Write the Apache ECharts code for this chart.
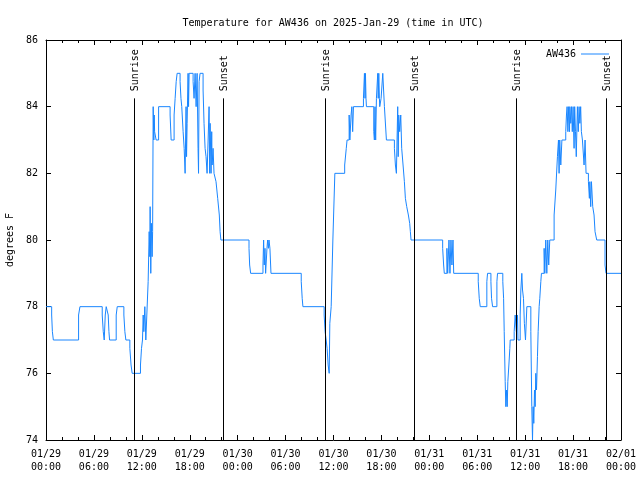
<!DOCTYPE html>
<html><head><meta charset="utf-8">
<script src="https://cdn.jsdelivr.net/npm/echarts/dist/echarts.min.js"></script>
<style>html,body{margin:0;padding:0;background:#fff}#c{width:640px;height:480px}</style>
</head><body><div id="c"></div>
<script>
const titleText = 'Temperature for AW436 on 2025-Jan-29 (time in UTC)';
const seriesName = 'AW436';
const yAxisName = 'degrees F';
const dayLabels = ['01/29', '01/30', '01/31', '02/01'];
const yTicks = [74, 76, 78, 80, 82, 84, 86];

// hours since 2025-01-29 00:00 UTC at which the reading changes
const hours = [
  0, 0.71, 0.8, 0.92, 4.08, 4.25, 7.04, 7.17, 7.29, 7.42, 7.54, 7.79, 7.88, 7.96, 8.79, 8.92,
  9.75, 9.875, 10.0, 10.5, 10.65, 10.79, 11.83, 11.96, 12.08, 12.17, 12.25, 12.375, 12.5, 12.625,
  12.79, 12.92, 13.0, 13.04, 13.12, 13.2, 13.29, 13.35, 13.42, 13.5, 13.55, 13.6, 13.79, 14.1,
  15.54, 15.67, 15.79, 16.04, 16.17, 16.3, 16.42, 16.79, 16.9, 17.0, 17.17, 17.3, 17.42, 17.54,
  17.6, 17.67, 17.79, 17.85, 17.92, 18.42, 18.54, 18.67, 18.8, 18.92, 19.04, 19.1, 19.17, 19.29,
  19.67, 19.79, 19.92, 20.04, 20.17, 20.3, 20.42, 20.5, 20.55, 20.67, 20.75, 20.8, 20.92, 21.04,
  21.29, 21.5, 21.7, 21.8, 21.9,
  25.42, 25.5, 25.625, 27.17, 27.25, 27.33, 27.42, 27.5, 27.67, 27.75, 27.85, 27.92, 28.04, 28.17,
  31.96, 32.08, 32.17, 34.83, 34.95, 35.08, 35.2, 35.33, 35.46, 35.54, 35.71, 35.92, 36.17,
  37.4, 37.6, 37.7, 37.96, 38.05, 38.2, 38.3, 38.4, 38.5, 39.75, 39.875, 39.95, 40.0, 40.07, 40.125,
  41.04, 41.12, 41.2, 41.28, 41.375, 41.54, 41.6, 41.67, 41.75, 41.79, 41.96, 42.17, 42.375, 42.625,
  43.625, 43.75, 43.875, 44.04, 44.1, 44.17, 44.29, 44.42, 44.54, 44.71, 44.875, 45.0, 45.17,
  45.375, 45.54, 45.625, 45.71,
  49.67, 49.79, 49.875, 50.2, 50.3, 50.46, 50.58, 50.71, 50.83, 50.96, 51.05,
  54.125, 54.25, 54.375, 55.2, 55.29, 55.71, 55.79, 55.92, 56.46, 56.54, 57.2, 57.3, 57.375,
  57.5, 57.58, 57.67, 57.75, 57.83, 57.96, 58.08, 58.125, 58.625, 58.75, 58.9, 59.04, 59.1,
  59.375, 59.46, 59.58, 59.67, 59.79, 59.9, 60.04, 60.21, 60.71, 60.83, 60.92, 61.0, 61.08,
  61.17, 61.25, 61.33, 61.42, 61.54, 61.625, 61.75, 61.83, 61.96, 62.04, 62.375, 62.46, 62.58,
  62.71, 62.83, 62.95, 63.08, 63.625, 63.83, 64.04, 64.17, 64.25, 64.33, 64.46, 64.6, 65.08,
  65.17, 65.25, 65.35, 65.45, 65.55, 65.6, 65.71, 65.8, 65.9, 66.0, 66.125, 66.2, 66.3, 66.4,
  66.54, 66.65, 66.75, 66.85, 66.95, 67.04, 67.17, 67.375, 67.5, 67.625, 67.92, 68.04, 68.1,
  68.21, 68.3, 68.46, 68.625, 68.75, 68.96, 70.0, 70.125, 72
];
const tempF = [
  78, 77.75, 77.25, 77, 77.75, 78, 77.75, 77.25, 77, 77.75, 78, 77.75, 77.25, 77, 77.75, 78,
  77.75, 77.25, 77, 76.75, 76.25, 76, 76.25, 76.75, 77, 77.75, 77.25, 78, 77, 77.75,
  78.75, 80.25, 79.5, 81, 79, 80.5, 79.5, 80.25, 84, 83, 83.75, 83.25, 83, 84,
  83.75, 83, 83, 83.75, 84.25, 84.75, 85, 84.75, 84.25, 84, 83.25, 82.75, 82, 84,
  82.5, 83.5, 85, 84, 85, 84.75, 84.25, 85, 84, 85, 82.75, 82, 84.75, 85,
  84.5, 83.5, 82.75, 82.5, 82, 83, 84, 82, 83.5, 82, 83.25, 82.25, 82.75, 82,
  81.75, 81.25, 80.75, 80.25, 80,
  79.75, 79.25, 79, 79.25, 80, 79.25, 79.75, 79, 79.75, 80, 79.75, 80, 79.75, 79,
  78.75, 78.25, 78, 77.75, 77.25, 77, 76.75, 76.25, 76, 77.5, 78, 80, 82,
  82.25, 82.75, 83, 83.75, 83, 83.75, 84, 83.25, 84, 84.25, 85, 84.25, 85, 84.25, 84,
  83.25, 83, 84, 83, 84.25, 85, 84.25, 85, 84.25, 84, 84.25, 85, 84, 83,
  82.75, 82.25, 82, 84, 82.5, 83.75, 83.25, 83.75, 82.75, 82.25, 81.75, 81.25, 81,
  80.75, 80.5, 80.25, 80,
  79.75, 79.25, 79, 79.75, 79, 80, 79, 80, 79.25, 80, 79,
  78.75, 78.25, 78, 78.75, 79, 78.75, 78.25, 78, 78.75, 79, 78.75, 78.25, 77.25,
  75.75, 75, 75.5, 75, 75.75, 76.25, 76.75, 77, 77.25, 77.75, 77.25, 77.75, 77,
  77.75, 78.5, 79, 78.5, 78.25, 77.5, 77, 78, 77.25, 75, 74, 75, 74.5,
  75.5, 75, 76, 75.5, 76.5, 77.25, 78, 78.25, 78.75, 79, 79.75, 79, 80,
  79, 80, 79.25, 80, 80.75, 81.5, 82.5, 83, 82, 83, 82.25, 83, 83.25,
  83.75, 84, 83.25, 84, 83.25, 84, 83.5, 84, 83.25, 84, 82.75, 84, 83.25, 82.5,
  84, 83.25, 84, 83.5, 84, 83.25, 83, 82.25, 83, 82, 81.75, 81.25, 81.75,
  81, 81.75, 81, 80.75, 80.25, 80, 79.25, 79, 79
];
const sunHours = [11.04, 22.16, 34.96, 46.16, 58.9, 70.16];
const sunLabels = ['Sunrise', 'Sunset', 'Sunrise', 'Sunset', 'Sunrise', 'Sunset'];

const FONT = "'DejaVu Sans Mono', 'Liberation Mono', monospace";
const LINE_COLOR = '#1a86ff';
const SUN_TOP = 84.25;
const Y_MIN = yTicks[0], Y_MAX = yTicks[yTicks.length - 1];

const seriesData = hours.map((h, i) => [h, tempF[i]]);
const fmtX = v => {
  const d = Math.floor(v / 24 + 1e-9);
  const hh = Math.round(v - d * 24);
  return dayLabels[d] + '\n' + String(hh).padStart(2, '0') + ':00';
};

const axisCommon = {
  axisLine: { show: true, onZero: false, lineStyle: { color: '#000', width: 1 } },
  splitLine: { show: false }
};

const chart = echarts.init(document.getElementById('c'), null, { renderer: 'canvas' });
chart.setOption({
  animation: false,
  backgroundColor: '#fff',
  title: {
    text: titleText, left: 328, top: 13, textAlign: 'center',
    textStyle: { fontFamily: FONT, fontSize: 10, fontWeight: 'normal', color: '#000' }
  },
  legend: {
    data: [{ name: seriesName, icon: 'rect' }], right: 26, top: 44, align: 'right', itemWidth: 28, itemHeight: 1,
    itemGap: 6, textStyle: { fontFamily: FONT, fontSize: 10, color: '#000' }
  },
  grid: { left: 46, top: 40, width: 575, height: 400, containLabel: false, outerBoundsMode: 'none' },
  xAxis: [
    Object.assign({
      type: 'value', min: 0, max: 72, interval: 6, position: 'bottom',
      axisTick: { show: true, inside: true, length: 5, lineStyle: { color: '#000' } },
      minorTick: { show: true, splitNumber: 3, length: 3, lineStyle: { color: '#000' } },
      axisLabel: { formatter: fmtX, fontFamily: FONT, fontSize: 10, color: '#000', margin: 8, lineHeight: 13 }
    }, axisCommon),
    Object.assign({
      type: 'value', min: 0, max: 72, interval: 6, position: 'top',
      axisTick: { show: true, inside: true, length: 5, lineStyle: { color: '#000' } },
      minorTick: { show: true, splitNumber: 3, length: 3, lineStyle: { color: '#000' } },
      axisLabel: { show: false }
    }, axisCommon)
  ],
  yAxis: [
    Object.assign({
      type: 'value', min: Y_MIN, max: Y_MAX, interval: 2, position: 'left',
      name: yAxisName, nameLocation: 'middle', nameGap: 31, nameRotate: 90,
      nameTextStyle: { fontFamily: FONT, fontSize: 10, color: '#000' },
      axisTick: { show: true, inside: true, length: 5, lineStyle: { color: '#000' } },
      axisLabel: { fontFamily: FONT, fontSize: 10, color: '#000', margin: 8 }
    }, axisCommon),
    Object.assign({
      type: 'value', min: Y_MIN, max: Y_MAX, interval: 2, position: 'right',
      axisTick: { show: true, inside: true, length: 5, lineStyle: { color: '#000' } },
      axisLabel: { show: false }
    }, axisCommon)
  ],
  series: [{
    name: seriesName, type: 'line', step: 'end', data: seriesData,
    symbol: 'none', showSymbol: false,
    lineStyle: { color: LINE_COLOR, width: 1 }, itemStyle: { color: LINE_COLOR },
    markLine: {
      silent: true, symbol: 'none', animation: false,
      lineStyle: { color: '#000', width: 1, type: 'solid' },
      label: { show: false },
      emphasis: { disabled: true },
      data: sunHours.map(h => [{ coord: [h, Y_MIN] }, { coord: [h, SUN_TOP] }])
    }
  }]
});

const texts = sunHours.map((h, i) => {
  const p = chart.convertToPixel({ xAxisIndex: 0, yAxisIndex: 0 }, [h, SUN_TOP]);
  return {
    type: 'text', x: p[0] + 1, y: p[1] - 7, rotation: Math.PI / 2, silent: true,
    style: { text: sunLabels[i], fill: '#000', font: '10px ' + FONT, textAlign: 'left', textVerticalAlign: 'middle' }
  };
});
chart.setOption({ graphic: texts });
</script></body></html>
